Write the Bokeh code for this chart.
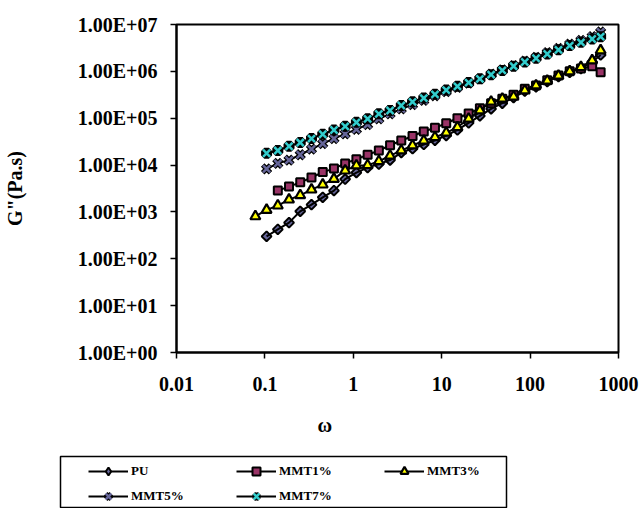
import numpy as np
from bokeh.plotting import figure
from bokeh.models import (Range1d, FixedTicker, Legend, LegendItem, Title,
                          ColumnDataSource)
from bokeh.embed import file_html
from bokeh.resources import INLINE

nan = float("nan")

# angular frequency (rad/s)
omega = [0.078, 0.1045, 0.140, 0.1875, 0.251, 0.3365, 0.451, 0.604, 0.809, 1.084,
         1.452, 1.945, 2.606, 3.49, 4.68, 6.27, 8.39, 11.25, 15.07, 20.18,
         27.04, 36.2, 48.5, 65.0, 87.1, 116.7, 156.3, 209.4, 280.5, 375.8,
         503.5, 628.0]

pu = [nan, 301, 425, 590, 1030, 1430, 2050, 2850, 5010, 6920,
      8830, 10470, 12790, 18490, 22390, 27540, 33880, 42660, 56230, 79430,
      112200, 158500, 208900, 275400, 380200, 467700, 603000, 776000, 955000, 1148000,
      1585000, 2239000]

mmt1 = [nan, nan, 2850, 3475, 4285, 5410, 7080, 8410, 10860, 13370,
        16520, 20420, 26490, 33340, 41690, 52000, 62370, 78160, 100000, 125900,
        162200, 208900, 260000, 316200, 426600, 501200, 645700, 812800, 1000000, 1148000,
        1288000, 955000]

mmt3 = [805, 1104, 1365, 1832, 2265, 2992, 3828, 5070, 7621, 9772,
        9886, 12020, 15850, 20420, 26120, 33110, 39260, 48750, 64270, 97050,
        146200, 223900, 260000, 288400, 390800, 500000, 631000, 803500, 1000000, 1230000,
        1710000, 2800000]

mmt5 = [nan, 8299, 10910, 12740, 16600, 21980, 28770, 36810, 46450, 57940,
        73280, 97050, 124200, 158500, 195000, 239900, 302000, 371500, 457100, 562300,
        691800, 871000, 1072000, 1318000, 1660000, 1995000, 2512000, 3090000, 3802000, 4571000,
        5495000, 6918000]

mmt7 = [nan, 17870, 20420, 25230, 30270, 36810, 45500, 55980, 67140, 81660,
        97050, 124200, 146200, 186600, 223900, 269200, 323600, 398100, 478600, 575400,
        691800, 851100, 1047000, 1288000, 1585000, 1905000, 2344000, 2884000, 3548000, 4169000,
        4898000, 5495000]

series_names = ["PU", "MMT1%", "MMT3%", "MMT5%", "MMT7%"]

x_ticks = [0.01, 0.1, 1, 10, 100, 1000]
x_tick_labels = ["0.01", "0.1", "1", "10", "100", "1000"]
y_ticks = [1, 10, 100, 1000, 10000, 100000, 1000000, 10000000]
y_tick_labels = ["1.00E+00", "1.00E+01", "1.00E+02", "1.00E+03",
                 "1.00E+04", "1.00E+05", "1.00E+06", "1.00E+07"]

FONT = "Liberation Serif"

src = ColumnDataSource(dict(
    omega=np.array(omega, dtype=float),
    pu=np.array(pu, dtype=float),
    mmt1=np.array(mmt1, dtype=float),
    mmt3=np.array(mmt3, dtype=float),
    mmt5=np.array(mmt5, dtype=float),
    mmt7=np.array(mmt7, dtype=float),
))


def draw_series(fig, for_legend=False):
    r = {}
    if for_legend:
        pu_marker = fig.scatter("omega", "pu", source=src, marker="diamond", size=11,
                                fill_color="#666699", line_color="black", line_width=2)
    else:
        pu_marker = fig.scatter("omega", "pu", source=src, marker="square",
                                angle=np.pi / 4, size=7, fill_color="#666699",
                                line_color="black", line_width=2)
    r["PU"] = [
        fig.line("omega", "pu", source=src, line_color="black", line_width=2),
        pu_marker,
    ]
    r["MMT1%"] = [
        fig.line("omega", "mmt1", source=src, line_color="black", line_width=2),
        fig.scatter("omega", "mmt1", source=src, marker="square", size=8,
                    fill_color="#993366", line_color="black", line_width=2),
    ]
    r["MMT3%"] = [
        fig.line("omega", "mmt3", source=src, line_color="black", line_width=2),
        fig.scatter("omega", "mmt3", source=src, marker="triangle", size=10,
                    fill_color="#FFFF00", line_color="black", line_width=2.2),
    ]
    r["MMT5%"] = [
        fig.line("omega", "mmt5", source=src, line_color="black", line_width=2),
        fig.scatter("omega", "mmt5", source=src, marker="x", size=11,
                    line_color="black", line_width=5),
        fig.scatter("omega", "mmt5", source=src, marker="x", size=10,
                    line_color="#666699", line_width=2.5),
    ]
    r["MMT7%"] = [
        fig.line("omega", "mmt7", source=src, line_color="black", line_width=2),
        fig.scatter("omega", "mmt7", source=src, marker="asterisk", size=11,
                    line_color="black", line_width=4.5),
        fig.scatter("omega", "mmt7", source=src, marker="x", size=10,
                    line_color="#33CCCC", line_width=2.5),
    ]
    return r


# ---------------- main chart ----------------
p = figure(width=643, height=454, x_axis_type="log", y_axis_type="log",
           x_range=Range1d(0.01, 1000), y_range=Range1d(1, 1e7),
           output_backend="svg", toolbar_location=None,
           min_border_left=173, min_border_right=25,
           min_border_top=24, min_border_bottom=102)
p.grid.visible = False
p.outline_line_color = "black"
p.outline_line_width = 2
p.background_fill_color = "white"
p.border_fill_color = "white"

for ax, ticks, labels in ((p.xaxis, x_ticks, x_tick_labels),
                          (p.yaxis, y_ticks, y_tick_labels)):
    ax.ticker = FixedTicker(ticks=ticks, minor_ticks=[])
    ax.major_label_overrides = dict(zip(ticks, labels))
    ax.major_label_text_font = FONT
    ax.major_label_text_font_style = "bold"
    ax.major_label_text_font_size = "20px"
    ax.major_label_text_color = "black"
    ax.axis_line_width = 2
    ax.axis_line_color = "black"
    ax.major_tick_line_width = 1.5
    ax.major_tick_line_color = "black"
    ax.major_tick_out = 6
    ax.major_tick_in = 0
    ax.minor_tick_out = 0
    ax.minor_tick_in = 0

p.xaxis.major_label_standoff = 18
p.yaxis.major_label_standoff = 13
p.yaxis.axis_label = 'G"(Pa.s)'
p.yaxis.axis_label_text_font = FONT
p.yaxis.axis_label_text_font_style = "bold"
p.yaxis.axis_label_text_font_size = "20px"
p.yaxis.axis_label_text_color = "black"
p.yaxis.axis_label_standoff = 49

draw_series(p)

p.add_layout(Title(text="ω", align="left", offset=141, text_font=FONT,
                   text_font_style="bold", text_font_size="20px",
                   text_color="black", standoff=37), "below")

# ---------------- legend box ----------------
q = figure(width=643, height=54, x_range=Range1d(-2, -1), y_range=Range1d(-2, -1),
           output_backend="svg", toolbar_location=None,
           min_border_left=60, min_border_right=137,
           min_border_top=2, min_border_bottom=0)
q.axis.visible = False
q.grid.visible = False
q.outline_line_color = "black"
q.outline_line_width = 1.5
q.background_fill_color = "white"
q.border_fill_color = "white"

rq = draw_series(q, for_legend=True)
legend = Legend(items=[LegendItem(label=n, renderers=rq[n]) for n in series_names],
                location=(28, 2), orientation="horizontal", ncols=3,
                glyph_width=40, glyph_height=20, label_standoff=3, label_width=100,
                label_height=20, spacing=5, padding=0, margin=0,
                border_line_color=None, background_fill_alpha=0,
                label_text_font=FONT, label_text_font_style="bold",
                label_text_font_size="13px", label_text_color="black")
q.add_layout(legend)

open("out.html", "w").write(file_html([p, q], INLINE))
